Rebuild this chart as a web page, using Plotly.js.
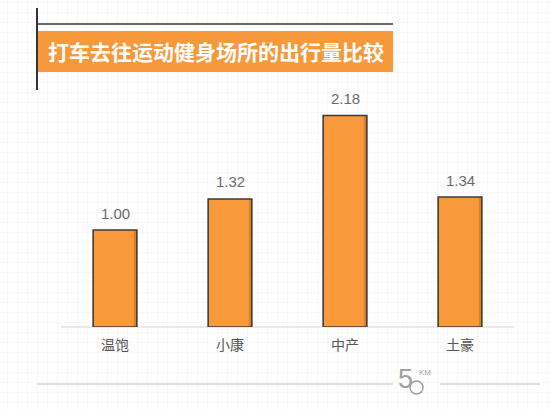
<!DOCTYPE html>
<html>
<head>
<meta charset="utf-8">
<script src="https://cdn.plot.ly/plotly-3.0.1.min.js"></script>
<style>
html,body{margin:0;padding:0;background:#fff;}
#chart{width:550px;height:409px;
background-color:#fff;
background-image:linear-gradient(#f8f8f8 1px, transparent 1px),linear-gradient(90deg,#f8f8f8 1px, transparent 1px);
background-size:10px 10px;background-position:17px 2px;}
</style>
</head>
<body>
<div id="chart"></div>
<script>
const categories = ["温饱", "小康", "中产", "土豪"];
const values = [1.00, 1.32, 2.18, 1.34];
const valueLabels = ["1.00", "1.32", "2.18", "1.34"];
const titleText = "打车去往运动健身场所的出行量比较";

const W = 550, PH = 327;
const xp = px => px / W;
const yp = py => (PH - py) / PH;
const font = "'Noto Sans CJK SC', 'Noto Sans', sans-serif";
const numFont = "'Liberation Sans', Arial, sans-serif";
const BW = 0.38;

const barDark = {
  type: "bar", x: categories, y: values, width: BW,
  marker: {color: "#E27E22", line: {width: 0}}, hoverinfo: "none"
};
const barLight = {
  type: "bar", x: categories, y: values, width: BW - 0.026, offset: -BW / 2,
  marker: {color: "#F89A3B", line: {width: 0}}, hoverinfo: "none"
};
const barBorder = {
  type: "bar", x: categories, y: values, width: BW,
  marker: {color: "rgba(0,0,0,0)", line: {color: "#3d3d3d", width: 1.6}}, hoverinfo: "none"
};

const annotations = categories.map((c, i) => ({
  x: c, y: values[i], xref: "x", yref: "y",
  text: valueLabels[i], showarrow: false, yshift: 17,
  font: {family: numFont, size: 15, color: "#6b6b6b"}
}));

annotations.push({
  xref: "paper", yref: "paper", x: xp(46), y: yp(51),
  xanchor: "left", yanchor: "middle", showarrow: false,
  text: "<b>" + titleText + "</b>",
  font: {family: font, size: 21, color: "#ffffff"}
});
annotations.push({
  xref: "paper", yref: "paper", x: xp(405), y: yp(379),
  xanchor: "center", yanchor: "middle", showarrow: false,
  text: "5", font: {family: numFont, size: 27, color: "#a0a0a0"}
});
annotations.push({
  xref: "paper", yref: "paper", x: xp(425), y: yp(372),
  xanchor: "center", yanchor: "middle", showarrow: false,
  text: "KM", font: {family: numFont, size: 8, color: "#a0a0a0"}
});

const shapes = [
  {type: "line", xref: "paper", yref: "paper", x0: xp(37), x1: xp(37), y0: yp(8), y1: yp(90), line: {color: "#333", width: 2}},
  {type: "line", xref: "paper", yref: "paper", x0: xp(37), x1: xp(393), y0: yp(24), y1: yp(24), line: {color: "#333", width: 1.5}},
  {type: "rect", xref: "paper", yref: "paper", x0: xp(38), x1: xp(393), y0: yp(31), y1: yp(72), fillcolor: "#F7993A", line: {width: 0}, layer: "below"},
  {type: "line", xref: "paper", yref: "paper", x0: xp(61), x1: xp(514), y0: yp(327), y1: yp(327), line: {color: "#e3e3e3", width: 1.5}, layer: "below"},
  {type: "line", xref: "paper", yref: "paper", x0: xp(37), x1: xp(393), y0: yp(384), y1: yp(384), line: {color: "#c0c0c0", width: 1.2}},
  {type: "line", xref: "paper", yref: "paper", x0: xp(440), x1: xp(540), y0: yp(384), y1: yp(384), line: {color: "#c0c0c0", width: 1.2}},
  {type: "circle", xref: "paper", yref: "paper", x0: xp(410), x1: xp(423), y0: yp(381), y1: yp(394), line: {color: "#a0a0a0", width: 1.5}}
];

const layout = {
  width: 550, height: 409,
  margin: {l: 0, r: 0, t: 0, b: 82, pad: 0},
  paper_bgcolor: "rgba(0,0,0,0)",
  plot_bgcolor: "rgba(0,0,0,0)",
  showlegend: false,
  barmode: "overlay",
  xaxis: {
    type: "category", range: [-1, 3.7826],
    showgrid: false, zeroline: false, showline: false, ticks: "",
    ticklabelstandoff: 8,
    tickfont: {family: font, size: 14, color: "#555"},
    fixedrange: true
  },
  yaxis: {
    range: [0, 327 / 97],
    showgrid: false, zeroline: false, showline: false, showticklabels: false, ticks: "",
    fixedrange: true
  },
  annotations: annotations,
  shapes: shapes
};

Plotly.newPlot("chart", [barDark, barLight, barBorder], layout, {displayModeBar: false, staticPlot: true});
</script>
</body>
</html>
